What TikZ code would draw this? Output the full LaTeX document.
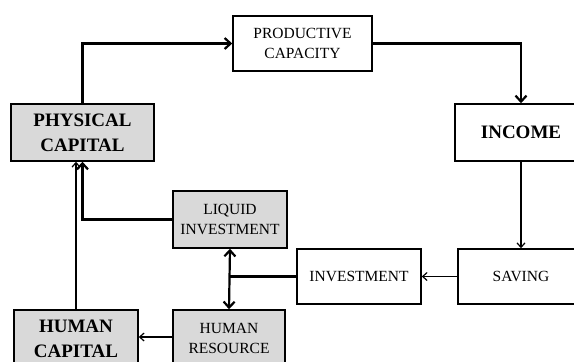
\documentclass[tikz,border=0pt]{standalone}
\usepackage{fontspec}
\setmainfont{Liberation Serif}
\usetikzlibrary{positioning}
\usetikzlibrary{arrows.meta}
\usetikzlibrary{calc}

\begin{document}
\begin{tikzpicture}[x=1pt,y=-1pt,
                    box/.style={draw,line width=1.5pt,align=center,inner sep=0pt,
                      font=\fontsize{15.5}{20}\selectfont},
                    shade box/.style={box,fill=gray!30},
                    big/.style={font=\fontsize{19}{25}\selectfont\bfseries},
                    thick link/.style={line width=2.2pt,>={Straight Barb[length=6pt,width=11pt]}},
                    thin link/.style={line width=1.2pt,>={Straight Barb[length=4.5pt,width=8pt]}}]
      \path[use as bounding box,clip] (0,0) rectangle (574,362);

      \node[box, minimum width=139pt, minimum height=55pt] (prod) at (302.5,43.5) {PRODUCTIVE\\CAPACITY};
      \node[shade box, big, minimum width=143pt, minimum height=57pt] (phys) at (82.5,132.5) {PHYSICAL\\CAPITAL};
      \node[box, big, minimum width=132pt, minimum height=57pt] (income) at (521,132.5) {INCOME};
      \node[box, minimum width=126pt, minimum height=55pt] (saving) at (521,276.5) {SAVING};
      \node[box, minimum width=124pt, minimum height=55pt] (invest) at (359,276.5) {INVESTMENT};
      \node[shade box, minimum width=114pt, minimum height=57pt] (liquid) at (230,219.5) {LIQUID\\INVESTMENT};
      \node[shade box, minimum width=112pt, minimum height=57pt] (humres) at (229,338.5) {HUMAN\\RESOURCE};
      \node[shade box, big, minimum width=124pt, minimum height=57pt] (humcap) at (76,338.5) {HUMAN\\CAPITAL};

      \coordinate (split) at (liquid.south |- invest.west);

      \draw[thick link,->] (phys.north) |- (prod.west);
      \draw[thick link,->] (prod.east) -| (income.north);
      \draw[thin link,->] (income) -- (saving);
      \draw[thin link,->] (saving) -- (invest);
      \draw[thick link] (invest.west) -- (split);
      \draw[thick link,<->] (liquid.south) -- (humres.north);
      \draw[thick link,->] (liquid.west) -| (phys.south);
      \draw[thin link,->] (humcap.north) -- (humcap.north |- phys.south);
      \draw[thin link,->] (humres.west |- 0,337) -- (humcap.east |- 0,337);
\end{tikzpicture}
\end{document}
